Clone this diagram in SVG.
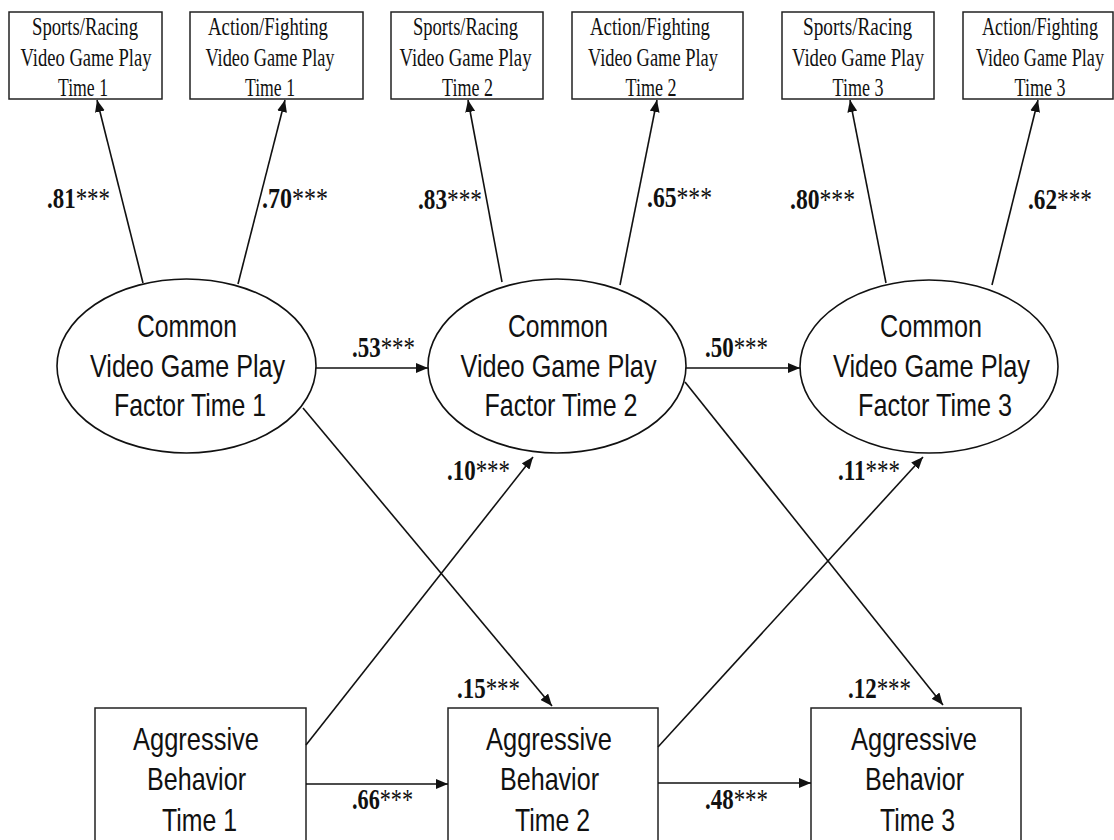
<svg xmlns="http://www.w3.org/2000/svg" width="1114" height="840" viewBox="0 0 1114 840">
  <style>
    .box { fill: #fff; stroke: #222; stroke-width: 1.5; }
    .lat { fill: #fff; stroke: #111; stroke-width: 1.6; }
    .ind { font-family: "Liberation Serif", "Times New Roman", serif; font-size: 25px; fill: #111; text-anchor: middle; }
    .big { font-family: "Liberation Sans", Arial, sans-serif; font-size: 32px; fill: #111; text-anchor: middle; }
    .coef { font-family: "Liberation Serif", "Times New Roman", serif; font-size: 30px; font-weight: bold; fill: #111; }
    .coef tspan { font-weight: normal; }
    .conn line { stroke: #111; stroke-width: 1.6; fill: none; marker-end: url(#arrow); }
  </style>
  <defs>
    <marker id="arrow" markerUnits="userSpaceOnUse" markerWidth="13" markerHeight="10" refX="12" refY="5" orient="auto">
      <path d="M0,0 L12,5 L0,10 z" fill="#111"/>
    </marker>
  </defs>
  <rect width="1114" height="840" fill="#fff"/>

  <!-- indicator boxes -->
  <g id="sports1">
    <rect class="box" x="9" y="12" width="153" height="87"/>
    <text class="ind" x="85" y="35" textLength="106" lengthAdjust="spacingAndGlyphs">Sports/Racing</text>
    <text class="ind" x="86" y="66" textLength="131" lengthAdjust="spacingAndGlyphs">Video Game Play</text>
    <text class="ind" x="83" y="96" textLength="50" lengthAdjust="spacingAndGlyphs">Time 1</text>
  </g>
  <g id="action1">
    <rect class="box" x="190" y="12" width="173" height="87"/>
    <text class="ind" x="268" y="35" textLength="120" lengthAdjust="spacingAndGlyphs">Action/Fighting</text>
    <text class="ind" x="270" y="66" textLength="129" lengthAdjust="spacingAndGlyphs">Video Game Play</text>
    <text class="ind" x="270" y="96" textLength="50" lengthAdjust="spacingAndGlyphs">Time 1</text>
  </g>
  <g id="sports2">
    <rect class="box" x="391" y="12" width="152" height="87"/>
    <text class="ind" x="465.5" y="35" textLength="105" lengthAdjust="spacingAndGlyphs">Sports/Racing</text>
    <text class="ind" x="465.5" y="66" textLength="132" lengthAdjust="spacingAndGlyphs">Video Game Play</text>
    <text class="ind" x="467.5" y="96" textLength="51" lengthAdjust="spacingAndGlyphs">Time 2</text>
  </g>
  <g id="action2">
    <rect class="box" x="572" y="12" width="171" height="87"/>
    <text class="ind" x="650" y="35" textLength="120" lengthAdjust="spacingAndGlyphs">Action/Fighting</text>
    <text class="ind" x="653" y="66" textLength="130" lengthAdjust="spacingAndGlyphs">Video Game Play</text>
    <text class="ind" x="651" y="96" textLength="51" lengthAdjust="spacingAndGlyphs">Time 2</text>
  </g>
  <g id="sports3">
    <rect class="box" x="782" y="12" width="152" height="87"/>
    <text class="ind" x="857.5" y="35" textLength="109" lengthAdjust="spacingAndGlyphs">Sports/Racing</text>
    <text class="ind" x="858" y="66" textLength="132" lengthAdjust="spacingAndGlyphs">Video Game Play</text>
    <text class="ind" x="858" y="96" textLength="51" lengthAdjust="spacingAndGlyphs">Time 3</text>
  </g>
  <g id="action3">
    <rect class="box" x="963" y="12" width="150" height="87"/>
    <text class="ind" x="1040" y="35" textLength="116" lengthAdjust="spacingAndGlyphs">Action/Fighting</text>
    <text class="ind" x="1040" y="66" textLength="128" lengthAdjust="spacingAndGlyphs">Video Game Play</text>
    <text class="ind" x="1040" y="96" textLength="51" lengthAdjust="spacingAndGlyphs">Time 3</text>
  </g>

  <!-- latent factors -->
  <g id="factor1">
    <ellipse class="lat" cx="186.5" cy="366" rx="129.5" ry="87"/>
    <text class="big" x="187" y="337" textLength="100" lengthAdjust="spacingAndGlyphs">Common</text>
    <text class="big" x="187.5" y="377" textLength="195" lengthAdjust="spacingAndGlyphs">Video Game Play</text>
    <text class="big" x="190" y="416" textLength="152" lengthAdjust="spacingAndGlyphs">Factor Time 1</text>
  </g>
  <g id="factor2">
    <ellipse class="lat" cx="557" cy="366" rx="129" ry="87"/>
    <text class="big" x="558" y="337" textLength="100" lengthAdjust="spacingAndGlyphs">Common</text>
    <text class="big" x="558.5" y="377" textLength="196" lengthAdjust="spacingAndGlyphs">Video Game Play</text>
    <text class="big" x="561" y="416" textLength="153" lengthAdjust="spacingAndGlyphs">Factor Time 2</text>
  </g>
  <g id="factor3">
    <ellipse class="lat" cx="929" cy="366.5" rx="129" ry="86.5"/>
    <text class="big" x="931" y="337" textLength="102" lengthAdjust="spacingAndGlyphs">Common</text>
    <text class="big" x="931.5" y="377" textLength="197" lengthAdjust="spacingAndGlyphs">Video Game Play</text>
    <text class="big" x="935" y="416" textLength="154" lengthAdjust="spacingAndGlyphs">Factor Time 3</text>
  </g>

  <!-- observed aggression -->
  <g id="aggr1">
    <rect class="box" x="95" y="708" width="211" height="140"/>
    <text class="big" x="196" y="750" textLength="126" lengthAdjust="spacingAndGlyphs">Aggressive</text>
    <text class="big" x="196.5" y="790" textLength="99" lengthAdjust="spacingAndGlyphs">Behavior</text>
    <text class="big" x="199.5" y="831" textLength="75" lengthAdjust="spacingAndGlyphs">Time 1</text>
  </g>
  <g id="aggr2">
    <rect class="box" x="448" y="708" width="210" height="140"/>
    <text class="big" x="549" y="750" textLength="126" lengthAdjust="spacingAndGlyphs">Aggressive</text>
    <text class="big" x="549.5" y="790" textLength="99" lengthAdjust="spacingAndGlyphs">Behavior</text>
    <text class="big" x="552.5" y="831" textLength="75" lengthAdjust="spacingAndGlyphs">Time 2</text>
  </g>
  <g id="aggr3">
    <rect class="box" x="811" y="708" width="210" height="140"/>
    <text class="big" x="914" y="750" textLength="126" lengthAdjust="spacingAndGlyphs">Aggressive</text>
    <text class="big" x="914.5" y="790" textLength="99" lengthAdjust="spacingAndGlyphs">Behavior</text>
    <text class="big" x="917.5" y="831" textLength="75" lengthAdjust="spacingAndGlyphs">Time 3</text>
  </g>

  <!-- paths -->
  <g id="connectors" class="conn">
    <line x1="143" y1="283" x2="97" y2="100"/>
    <line x1="238" y1="284" x2="285" y2="100"/>
    <line x1="502" y1="282" x2="468" y2="100"/>
    <line x1="620" y1="285" x2="657" y2="100"/>
    <line x1="886" y1="283" x2="850" y2="100"/>
    <line x1="992" y1="285" x2="1038" y2="100"/>
    <line x1="316" y1="368" x2="428" y2="368"/>
    <line x1="686" y1="368" x2="800" y2="368"/>
    <line x1="303" y1="408" x2="552" y2="706"/>
    <line x1="685" y1="382" x2="943" y2="705"/>
    <line x1="306" y1="745" x2="533" y2="457"/>
    <line x1="658" y1="747" x2="923" y2="457"/>
    <line x1="306" y1="784" x2="448" y2="784"/>
    <line x1="658" y1="783" x2="811" y2="783"/>
  </g>

  <!-- coefficients -->
  <g id="labels">
    <text class="coef" x="47" y="208" textLength="63" lengthAdjust="spacingAndGlyphs">.81<tspan>***</tspan></text>
    <text class="coef" x="262" y="208" textLength="66" lengthAdjust="spacingAndGlyphs">.70<tspan>***</tspan></text>
    <text class="coef" x="418" y="209" textLength="64" lengthAdjust="spacingAndGlyphs">.83<tspan>***</tspan></text>
    <text class="coef" x="647" y="207" textLength="65" lengthAdjust="spacingAndGlyphs">.65<tspan>***</tspan></text>
    <text class="coef" x="790" y="209" textLength="65" lengthAdjust="spacingAndGlyphs">.80<tspan>***</tspan></text>
    <text class="coef" x="1028" y="209" textLength="64" lengthAdjust="spacingAndGlyphs">.62<tspan>***</tspan></text>
    <text class="coef" x="352" y="357" textLength="63" lengthAdjust="spacingAndGlyphs">.53<tspan>***</tspan></text>
    <text class="coef" x="705" y="357" textLength="63" lengthAdjust="spacingAndGlyphs">.50<tspan>***</tspan></text>
    <text class="coef" x="447" y="480" textLength="63" lengthAdjust="spacingAndGlyphs">.10<tspan>***</tspan></text>
    <text class="coef" x="838" y="480" textLength="62" lengthAdjust="spacingAndGlyphs">.11<tspan>***</tspan></text>
    <text class="coef" x="457" y="698" textLength="63" lengthAdjust="spacingAndGlyphs">.15<tspan>***</tspan></text>
    <text class="coef" x="848" y="698" textLength="63" lengthAdjust="spacingAndGlyphs">.12<tspan>***</tspan></text>
    <text class="coef" x="352" y="809" textLength="61" lengthAdjust="spacingAndGlyphs">.66<tspan>***</tspan></text>
    <text class="coef" x="705" y="809" textLength="63" lengthAdjust="spacingAndGlyphs">.48<tspan>***</tspan></text>
  </g>
</svg>
